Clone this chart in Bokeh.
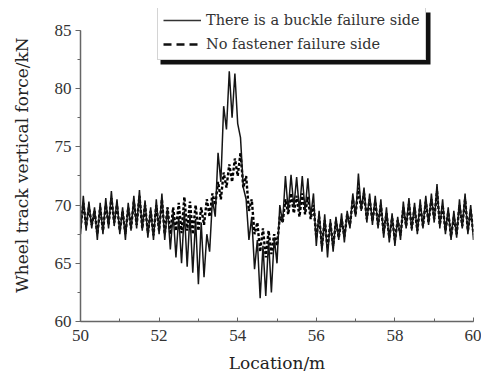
from bokeh.plotting import figure
from bokeh.models import Legend, LegendItem, SingleIntervalTicker, BoxAnnotation
from bokeh.embed import file_html
from bokeh.resources import INLINE
import numpy as np

# Location (m): uniform sampling of the 50..60 m window
location = np.round(np.linspace(50.0, 60.0, 141), 4)

buckle_side = [
    67.5, 70.8, 67.8, 70.3, 68.0, 69.8, 67.0, 70.2, 67.5, 70.6,
    68.0, 71.2, 68.2, 70.5, 67.5, 69.8, 67.0, 70.2, 67.8, 70.8,
    68.0, 71.3, 67.8, 70.4, 67.2, 69.8, 67.0, 70.5, 67.5, 71.0,
    67.0, 69.8, 66.2, 69.3, 65.5, 69.0, 65.0, 69.5, 64.7, 69.2,
    64.2, 68.8, 63.2, 68.5, 63.8, 67.5, 66.0, 70.5, 69.0, 74.5,
    72.0, 78.5, 76.5, 81.5, 77.5, 81.3, 77.0, 75.8, 71.5, 70.5,
    67.0, 69.0, 64.5, 67.0, 62.0, 66.5, 62.2, 67.0, 62.5, 67.2,
    65.0, 70.0, 68.5, 72.5, 69.5, 72.6, 69.8, 72.4, 69.5, 72.5,
    69.5, 72.3, 69.0, 71.0, 66.5, 69.5, 66.0, 69.2, 65.5, 68.8,
    66.0, 69.0, 67.0, 69.3, 66.8, 69.5, 68.0, 71.0, 69.0, 72.7,
    69.5, 71.5, 68.5, 71.0, 68.3, 70.8, 68.0, 70.5, 67.2, 69.8,
    66.8, 69.3, 66.5, 69.0, 67.0, 70.3, 68.0, 70.6, 67.8, 70.2,
    67.5, 70.5, 68.0, 70.8, 68.3, 71.0, 68.5, 71.8, 68.0, 70.5,
    67.5, 69.8, 67.0, 69.5, 67.2, 70.5, 68.0, 71.0, 67.5, 70.0,
    67.0,
]

no_fastener_side = [
    68.0, 70.2, 68.2, 69.8, 68.3, 69.5, 67.5, 69.8, 67.8, 70.0,
    68.3, 70.6, 68.5, 70.0, 67.8, 69.5, 67.5, 69.8, 68.0, 70.3,
    68.3, 70.8, 68.0, 70.0, 67.6, 69.5, 67.4, 70.0, 67.8, 70.5,
    67.5, 69.8, 67.5, 69.8, 67.8, 70.2, 67.6, 70.7, 67.8, 70.3,
    67.5, 70.0, 67.8, 69.8, 68.3, 70.5, 69.0, 71.0, 70.0, 72.0,
    70.5, 72.8, 71.5, 73.5, 72.0, 74.0, 72.5, 74.5, 71.5, 72.5,
    69.5, 70.5, 67.5, 68.5, 66.0, 68.0, 65.5, 67.8, 65.8, 67.5,
    66.5, 69.0, 68.5, 70.5, 69.2, 71.0, 69.3, 70.8, 69.0, 71.0,
    69.2, 70.7, 68.8, 70.0, 67.2, 69.0, 66.5, 68.7, 66.3, 68.5,
    66.5, 68.6, 67.2, 68.8, 67.3, 69.2, 68.3, 70.5, 69.2, 71.5,
    69.6, 71.0, 68.8, 70.5, 68.6, 70.3, 68.3, 70.0, 67.6, 69.3,
    67.2, 68.9, 67.0, 68.7, 67.4, 69.8, 68.2, 70.1, 68.0, 69.8,
    67.8, 70.0, 68.2, 70.3, 68.5, 70.5, 68.8, 71.2, 68.3, 70.0,
    67.8, 69.4, 67.3, 69.0, 67.5, 70.0, 68.2, 70.5, 67.8, 69.6,
    67.5,
]

series_labels = ["There is a buckle failure side", "No fastener failure side"]
x_title = "Location/m"
y_title = "Wheel track vertical force/kN"
x_limits = (50, 60)
y_limits = (60, 85)

TICK_FONT = "Liberation Serif"
TEXT_FONT = "DejaVu Serif"

# frame extends above the y axis end so the legend (which overhangs the
# top of the axes) is not clipped; the y axis itself stops at 85
p = figure(width=481, height=376, output_backend="svg", toolbar_location=None,
           x_range=x_limits, y_range=(y_limits[0], 86.89),
           min_border_left=80, min_border_right=8, min_border_top=8, min_border_bottom=55)
p.outline_line_color = None
p.xgrid.visible = False
p.ygrid.visible = False
p.background_fill_color = "white"

r_dash = p.line(location, no_fastener_side, line_color="black", line_width=2.4, line_dash="3 2")
r_solid = p.line(location, buckle_side, line_color="#151515", line_width=1.5)

# legend sample glyphs: single-point lines (draw nothing in the plot area)
leg_solid = p.line(location[:1], buckle_side[:1], line_color="#333333", line_width=1.3)
leg_dash = p.line(location[:1], no_fastener_side[:1], line_color="#111111",
                  line_width=2.4, line_dash="8 5")

for ax, interval in ((p.xaxis[0], 2), (p.yaxis[0], 5)):
    ax.ticker = SingleIntervalTicker(interval=interval, num_minor_ticks=2)
    ax.axis_line_color = "#666666"
    ax.axis_line_width = 1.5
    ax.major_tick_line_color = "#666666"
    ax.minor_tick_line_color = "#666666"
    ax.major_label_text_font = TICK_FONT
    ax.major_label_text_font_size = "17px"
    ax.major_label_text_color = "#333333"
    ax.axis_label_text_font = TEXT_FONT
    ax.axis_label_text_font_size = "17px"
    ax.axis_label_text_font_style = "normal"
    ax.axis_label_text_color = "#222222"

p.yaxis.bounds = y_limits
p.xaxis.axis_label = x_title
p.yaxis.axis_label = y_title
p.xaxis.major_tick_in = 4
p.xaxis.major_tick_out = 0
p.xaxis.minor_tick_in = 3
p.xaxis.minor_tick_out = 0
p.yaxis.major_tick_in = 0
p.yaxis.major_tick_out = 5
p.yaxis.minor_tick_in = 0
p.yaxis.minor_tick_out = 3
p.xaxis.major_label_standoff = 8
p.yaxis.major_label_standoff = 4
p.xaxis.axis_label_standoff = 9
p.yaxis.axis_label_standoff = 20

# legend drop shadow (screen units relative to the frame's bottom-left)
shadow = BoxAnnotation(left=80, right=350, bottom=257, top=309,
                       left_units="screen", right_units="screen",
                       bottom_units="screen", top_units="screen",
                       fill_color="#111111", fill_alpha=1.0, line_color=None)
p.add_layout(shadow)

lg = Legend(items=[LegendItem(label=series_labels[0], renderers=[leg_solid]),
                   LegendItem(label=series_labels[1], renderers=[leg_dash])],
            location=(77, 261))
lg.label_text_font = TEXT_FONT
lg.label_text_font_size = "14.5px"
lg.label_text_color = "#333333"
lg.glyph_width = 38
lg.glyph_height = 20
lg.label_height = 20
lg.label_standoff = 5
lg.spacing = 4
lg.padding = 5
lg.margin = 0
lg.border_line_color = "#aaaaaa"
lg.border_line_width = 1
lg.background_fill_color = "white"
lg.background_fill_alpha = 1.0
p.add_layout(lg, "center")

open("out.html", "w").write(file_html(p, INLINE))
